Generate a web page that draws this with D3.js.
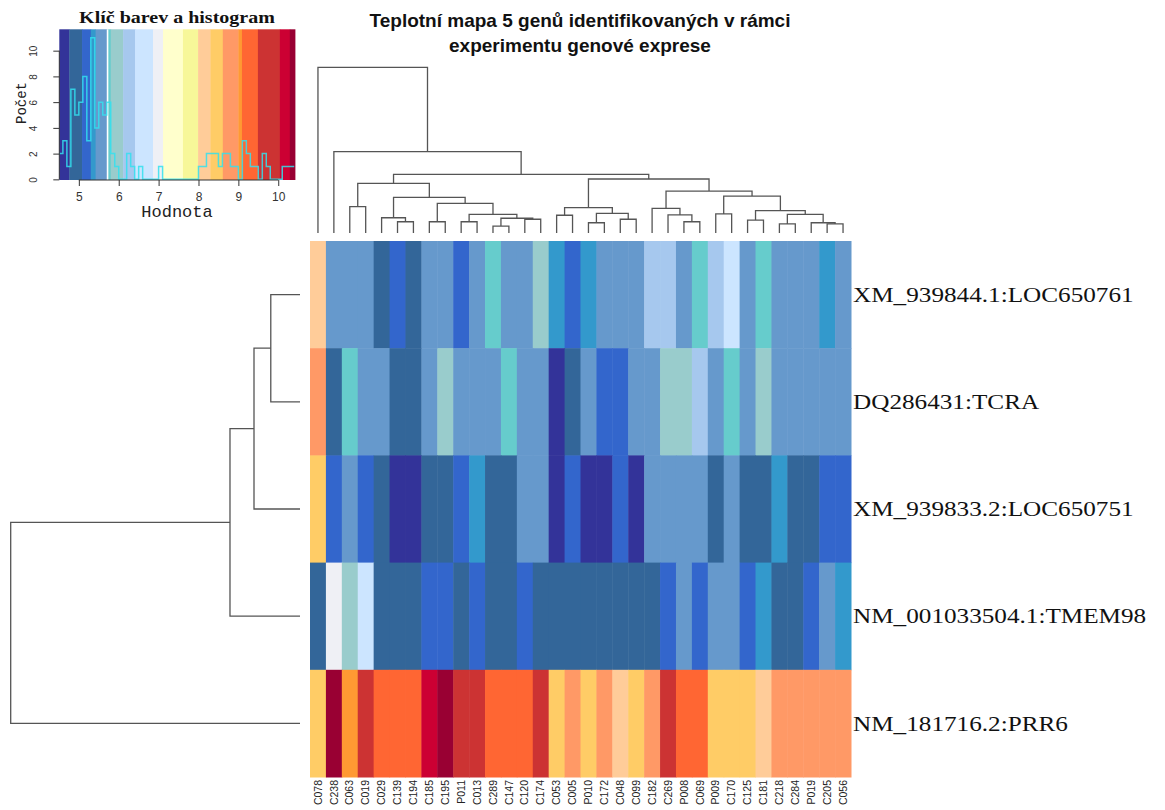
<!DOCTYPE html>
<meta charset="utf-8">
<style>
body { margin: 0; background: #fff; }
svg { display: block; }
.dendro path { fill: none; stroke: #555; stroke-width: 1.3; }
.key .tick line, .key .domain { stroke: #333; }
</style>
<body>
<script src="https://d3js.org/d3.v7.min.js"></script>
<script>

// samples in dendrogram order (columns) and genes (rows)
var samples = ["C078","C238","C063","C019","C029","C139","C194","C185","C195","P011","C013","C289",
  "C147","C120","C174","C053","C005","P010","C172","C048","C099","C182","C269","P008","C069","P009",
  "C170","C125","C181","C218","C284","P019","C205","C056"];
var genes = ["XM_939844.1:LOC650761", "DQ286431:TCRA", "XM_939833.2:LOC650751",
  "NM_001033504.1:TMEM98", "NM_181716.2:PRR6"];

// expression values, one array per gene
var exprLOC650761 = [8.15, 5.58, 5.55, 5.60, 4.92, 5.19, 4.95, 5.57, 5.54, 5.20, 5.56, 5.76, 5.55, 5.58,
  5.96, 5.37, 5.18, 5.36, 5.55, 5.60, 5.57, 6.25, 6.28, 5.56, 5.74, 6.27, 6.64, 5.58, 5.76, 5.55,
  5.60, 5.57, 5.38, 5.56];
var exprTCRA = [8.80, 4.93, 5.75, 5.56, 5.59, 4.90, 4.95, 5.57, 5.97, 5.55, 5.60, 5.58, 5.76, 5.56,
  5.55, 4.62, 4.94, 5.57, 5.20, 5.18, 5.56, 5.60, 5.95, 5.98, 6.24, 5.57, 5.75, 5.58, 5.96, 5.55,
  5.57, 5.60, 5.56, 5.58];
var exprLOC650751 = [8.45, 5.20, 5.57, 5.18, 4.93, 4.62, 4.64, 4.92, 4.95, 5.19, 5.36, 4.93, 4.90, 5.56,
  5.58, 4.63, 5.20, 4.61, 4.64, 5.19, 4.62, 5.56, 5.58, 5.55, 5.60, 4.93, 5.57, 4.92, 4.95, 5.37,
  4.93, 4.90, 5.19, 5.21];
var exprTMEM98 = [4.92, 6.98, 5.95, 6.63, 4.93, 4.90, 4.95, 5.19, 5.20, 4.92, 5.18, 4.93, 4.90, 5.20,
  4.92, 4.95, 4.90, 4.93, 4.92, 4.95, 4.90, 4.93, 5.19, 5.57, 5.20, 5.56, 5.58, 5.18, 5.37, 4.92,
  4.95, 5.20, 5.56, 5.36];
var exprPRR6 = [8.45, 10.36, 9.05, 9.75, 9.30, 9.28, 9.32, 10.15, 10.34, 9.76, 9.72, 9.30, 9.31, 9.28,
  9.74, 8.44, 8.80, 8.46, 8.79, 8.15, 8.45, 8.80, 9.75, 9.30, 9.29, 8.45, 8.47, 8.43, 8.16, 8.80,
  8.82, 8.79, 8.80, 8.81];
var matrix = [exprLOC650761, exprTCRA, exprLOC650751, exprTMEM98, exprPRR6];

// colour key: band edges and colours
var keyBreaks = [4.51, 4.76, 5.08, 5.30, 5.42, 5.71, 5.80, 6.11, 6.41, 6.86, 7.11, 7.61, 7.99,
  8.30, 8.61, 9.00, 9.09, 9.49, 10.04, 10.29, 10.42];
var keyColors = ["#333399", "#336699", "#3366cc", "#3399cc", "#6699cc", "#66cccc", "#99cccc",
  "#a6c8ee", "#cce5ff", "#eff0f5", "#ffffcc", "#f7f799", "#ffcc99", "#ffcc66", "#ff9966",
  "#ff9933", "#ff6633", "#cc3333", "#cc0033", "#990033"];
var keyMarker = 5.72;

// histogram of all values (bins of 0.1 starting at 4.5)
var histStart = 4.5, histWidth = 0.1;
var histCounts = [2, 3, 1, 7, 5, 6, 8, 3, 11, 4, 6, 5, 6, 2, 1, 0, 0, 2, 1, 0, 1, 0, 0, 0, 0, 1,
  0, 0, 0, 0, 0, 0, 0, 0, 0, 1, 1, 2, 2, 2, 1, 2, 2, 1, 1, 0, 3, 2, 1, 1, 0, 2, 1, 0, 0, 0, 1, 1, 1];
var keyXTicks = [5, 6, 7, 8, 9, 10];
var keyYTicks = [0, 2, 4, 6, 8, 10];

// dendrograms: [height, left, right], leaves are indices
var colTree =
  [10.0, 0,
   [4.91, 1,
    [3.54,
     [3.00, [1.59, 2, 3],
      [2.15, [0.92, 4, [0.68, 5, 6]],
       [1.79, [0.68, 7, 8],
        [1.13, [0.68, 9, 10], [0.89, [0.42, 11, 12], [0.83, 13, 14]]]]]],
     [3.26,
      [1.53, [1.07, 15, 16], [1.19, [0.62, 17, 18], [0.83, 19, 20]]],
      [2.53,
       [1.49, 21, [1.09, 22, [0.68, 23, 24]]],
       [2.23, [1.15, 25, 26],
        [1.35, [0.78, 27, 28],
         [1.13, [0.55, 29, 30], [0.62, 31, [0.55, 32, 33]]]]]]]]]];
var rowTree = [10.0, [2.42, [1.59, [1.01, 0, 1], 2], 3], 4];

var W = 1165, H = 810;
var svg = d3.select("body").append("svg").attr("width", W).attr("height", H);

// ---------- heatmap ----------
var x = d3.scaleBand().domain(d3.range(samples.length)).range([310, 851]);
var y = d3.scaleBand().domain(d3.range(genes.length)).range([241, 777]);
var color = d3.scaleThreshold().domain(keyBreaks.slice(1, -1)).range(keyColors);

var cells = [];
matrix.forEach(function(row, r) {
  row.forEach(function(v, c) { cells.push({r: r, c: c, v: v}); });
});

svg.append("g").selectAll("rect")
  .data(cells)
  .enter().append("rect")
    .attr("x", function(d) { return x(d.c); })
    .attr("y", function(d) { return y(d.r); })
    .attr("width", x.bandwidth() + 0.5)
    .attr("height", y.bandwidth() + 0.5)
    .attr("fill", function(d) { return color(d.v); });

// column labels
svg.append("g").selectAll("text")
  .data(samples)
  .enter().append("text")
    .attr("transform", function(d, i) {
      return "translate(" + (x(i) + x.bandwidth() / 2) + ",780) rotate(-90)";
    })
    .attr("dy", "0.35em")
    .attr("text-anchor", "end")
    .style("font", "10.5px 'Liberation Sans', Arial, sans-serif")
    .style("fill", "#222")
    .text(function(d) { return d; });

// row labels
svg.append("g").selectAll("text")
  .data(genes)
  .enter().append("text")
    .attr("transform", function(d, i) {
      return "translate(853," + (y(i) + y.bandwidth() / 2) + ") scale(1.2,1)";
    })
    .attr("dominant-baseline", "central")
    .style("font", "21px 'Liberation Serif', 'Times New Roman', serif")
    .style("fill", "#111")
    .text(function(d) { return d; });

// ---------- dendrograms ----------
function dendro(tree, leafPos, hScale, vertical) {
  var segs = [];
  function walk(n) {
    if (typeof n === "number") return {p: leafPos(n), h: 0};
    var a = walk(n[1]), b = walk(n[2]);
    if (vertical) {
      segs.push("M" + a.p + "," + hScale(a.h) + "V" + hScale(n[0]) + "H" + b.p + "V" + hScale(b.h));
    } else {
      segs.push("M" + hScale(a.h) + "," + a.p + "H" + hScale(n[0]) + "V" + b.p + "H" + hScale(b.h));
    }
    return {p: (a.p + b.p) / 2, h: n[0]};
  }
  walk(tree);
  return segs;
}

var colH = d3.scaleLinear().domain([0, 10]).range([233, 67.3]);
var rowH = d3.scaleLinear().domain([0, 10]).range([300, 10.7]);

svg.append("g").attr("class", "dendro").selectAll("path")
  .data(dendro(colTree, function(i) { return x(i) + x.bandwidth() / 2; }, colH, true))
  .enter().append("path").attr("d", function(d) { return d; });

svg.append("g").attr("class", "dendro").selectAll("path")
  .data(dendro(rowTree, function(i) { return y(i) + y.bandwidth() / 2; }, rowH, false))
  .enter().append("path").attr("d", function(d) { return d; });

// ---------- title ----------
var title = svg.append("text")
  .attr("text-anchor", "middle")
  .style("font", "bold 19px 'Liberation Sans', Arial, sans-serif")
  .style("fill", "#111");
title.append("tspan").attr("x", 580).attr("y", 27).text("Teplotní mapa 5 genů identifikovaných v rámci");
title.append("tspan").attr("x", 580).attr("y", 52).text("experimentu genové exprese");

// ---------- colour key with histogram ----------
var key = svg.append("g").attr("class", "key");
var kx = d3.scaleLinear().domain([keyBreaks[0], keyBreaks[keyBreaks.length - 1]]).range([59.3, 295]);
var ky = d3.scaleLinear().domain([-0.05, 11.66]).range([180, 29.3]);

key.append("clipPath").attr("id", "keyclip")
  .append("rect").attr("x", kx.range()[0]).attr("y", ky.range()[1])
  .attr("width", kx.range()[1] - kx.range()[0]).attr("height", ky.range()[0] - ky.range()[1]);

key.append("g").selectAll("rect")
  .data(keyColors)
  .enter().append("rect")
    .attr("x", function(d, i) { return kx(keyBreaks[i]); })
    .attr("width", function(d, i) { return kx(keyBreaks[i + 1]) - kx(keyBreaks[i]) + 0.4; })
    .attr("y", ky.range()[1])
    .attr("height", ky.range()[0] - ky.range()[1])
    .attr("fill", function(d) { return d; });

key.append("line")
  .attr("x1", kx(keyMarker)).attr("x2", kx(keyMarker))
  .attr("y1", ky.range()[1]).attr("y2", ky.range()[0])
  .attr("stroke", "#fff").attr("stroke-width", 1.6);

var histPts = histCounts.map(function(c, i) { return [histStart + i * histWidth, c]; });
histPts.push([histStart + histCounts.length * histWidth, histCounts[histCounts.length - 1]]);
var histLine = d3.line()
  .x(function(d) { return kx(d[0]); })
  .y(function(d) { return ky(d[1]); })
  .curve(d3.curveStepAfter);
key.append("path")
  .attr("clip-path", "url(#keyclip)")
  .attr("d", histLine(histPts))
  .attr("fill", "none")
  .attr("stroke", "#33e0ee")
  .attr("stroke-opacity", 0.85)
  .attr("stroke-width", 1.5);

var xAxis = key.append("g")
  .attr("transform", "translate(0,180)")
  .call(d3.axisBottom(kx).tickValues(keyXTicks).tickFormat(d3.format("d")).tickSize(6).tickPadding(6));
xAxis.select(".domain").attr("d", "M" + kx(5) + ",0H" + kx(10));
xAxis.selectAll("text").style("font", "12px 'Liberation Sans', Arial, sans-serif").style("fill", "#333");

var yAxis = key.append("g")
  .attr("transform", "translate(59.3,0)")
  .call(d3.axisLeft(ky).tickValues(keyYTicks).tickFormat(d3.format("d")).tickSize(6));
yAxis.select(".domain").attr("d", "M0," + ky(0) + "V" + ky(10));
yAxis.selectAll("text")
  .attr("x", null).attr("dy", null)
  .attr("transform", "translate(-22,0) rotate(-90)")
  .attr("text-anchor", "middle")
  .style("font", "10px 'Liberation Sans', Arial, sans-serif")
  .style("fill", "#333");

key.append("text")
  .attr("x", 177).attr("y", 23)
  .attr("text-anchor", "middle")
  .attr("transform", "translate(177,0) scale(1.25,1) translate(-177,0)")
  .style("font", "bold 16px 'Liberation Serif', 'Times New Roman', serif")
  .style("fill", "#111")
  .text("Klíč barev a histogram");

key.append("text")
  .attr("x", 177).attr("y", 217)
  .attr("text-anchor", "middle")
  .style("font", "17px 'Liberation Mono', 'Courier New', monospace")
  .style("fill", "#222")
  .text("Hodnota");

key.append("text")
  .attr("transform", "translate(26,103) rotate(-90)")
  .attr("text-anchor", "middle")
  .style("font", "14px 'Liberation Mono', 'Courier New', monospace")
  .style("fill", "#222")
  .text("Počet");

</script>
